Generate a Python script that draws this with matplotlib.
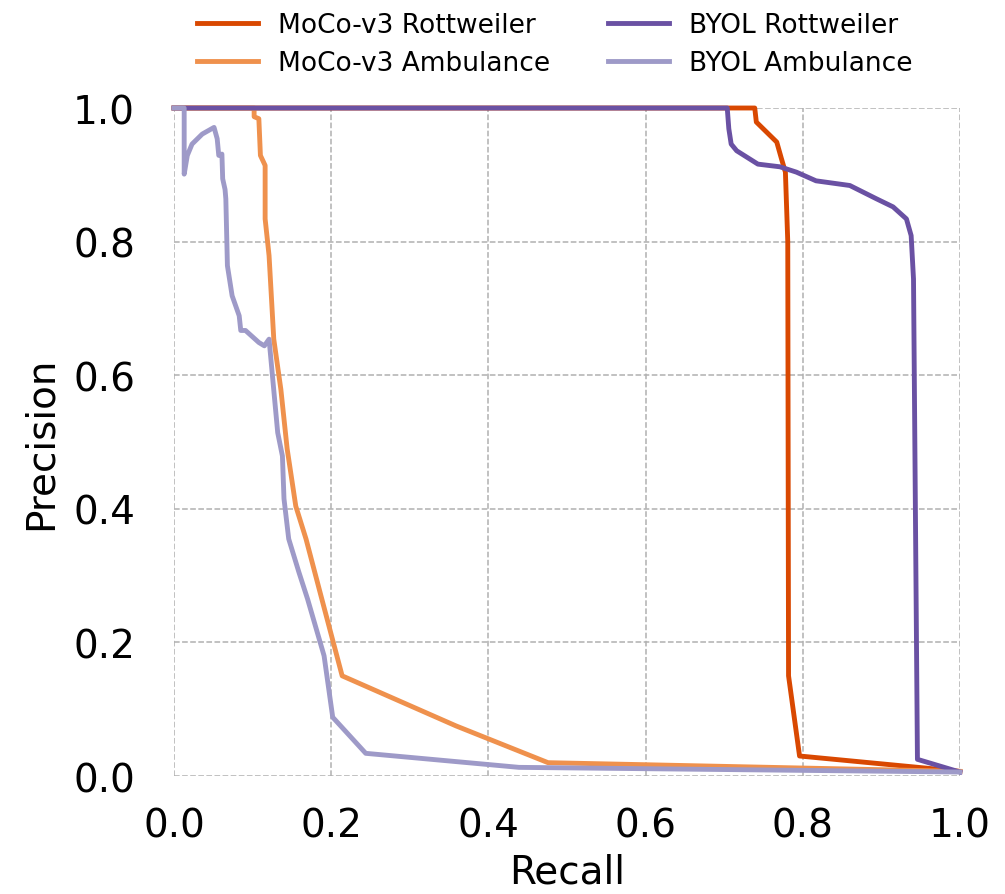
import matplotlib
matplotlib.use("Agg")
import matplotlib.pyplot as plt

# recall / precision points
moco_rott_r = [0.0, 0.739, 0.741, 0.754, 0.767, 0.773, 0.778, 0.781, 0.782, 0.796, 1.0]
moco_rott_p = [1.0, 1.0, 0.979, 0.964, 0.949, 0.924, 0.904, 0.80, 0.150, 0.030, 0.007]

moco_amb_r = [0.0, 0.102, 0.102, 0.108, 0.110, 0.116, 0.116, 0.121, 0.127, 0.136, 0.144,
              0.155, 0.168, 0.187, 0.214, 0.359, 0.476, 1.0]
moco_amb_p = [1.0, 1.0, 0.987, 0.984, 0.929, 0.914, 0.834, 0.779, 0.654, 0.579, 0.49,
              0.404, 0.355, 0.27, 0.150, 0.075, 0.020, 0.007]

byol_rott_r = [0.0, 0.704, 0.706, 0.709, 0.716, 0.743, 0.771, 0.792, 0.817, 0.860, 0.894,
               0.915, 0.932, 0.938, 0.941, 0.946, 1.0]
byol_rott_p = [1.0, 1.0, 0.969, 0.946, 0.936, 0.916, 0.912, 0.904, 0.891, 0.884, 0.864,
               0.852, 0.834, 0.809, 0.744, 0.025, 0.006]

byol_amb_r = [0.0, 0.013, 0.013, 0.017, 0.023, 0.036, 0.051, 0.055, 0.057, 0.061, 0.062,
              0.065, 0.066, 0.068, 0.074, 0.083, 0.085, 0.091, 0.108, 0.115, 0.121, 0.132,
              0.138, 0.140, 0.146, 0.159, 0.170, 0.191, 0.202, 0.244, 0.439, 1.0]
byol_amb_p = [1.0, 1.0, 0.901, 0.929, 0.946, 0.961, 0.971, 0.954, 0.929, 0.931, 0.894,
              0.878, 0.864, 0.764, 0.719, 0.689, 0.667, 0.667, 0.649, 0.644, 0.654, 0.514,
              0.479, 0.415, 0.355, 0.305, 0.265, 0.18, 0.088, 0.034, 0.013, 0.006]

ticks = [0.0, 0.2, 0.4, 0.6, 0.8, 1.0]

fig = plt.figure(figsize=(10.05, 8.95), dpi=100)
ax = fig.add_axes([0.1731, 0.1318, 0.782, 0.7464])

lw = 3.5
ax.plot(moco_rott_r, moco_rott_p, color='#d94801', lw=lw, label='MoCo-v3 Rottweiler', clip_on=False)
ax.plot(moco_amb_r, moco_amb_p, color='#ef914d', lw=lw, label='MoCo-v3 Ambulance', clip_on=False)
ax.plot(byol_rott_r, byol_rott_p, color='#6a51a3', lw=lw, label='BYOL Rottweiler', clip_on=False)
ax.plot(byol_amb_r, byol_amb_p, color='#9e9ac8', lw=lw, label='BYOL Ambulance', clip_on=False)

ax.set_xlim(0, 1)
ax.set_ylim(0, 1)
ax.set_xticks(ticks)
ax.set_yticks(ticks)
ax.set_xticklabels([f'{t:.1f}' for t in ticks])
ax.set_yticklabels([f'{t:.1f}' for t in ticks])
ax.tick_params(length=0, labelsize=28)
ax.tick_params(axis='x', pad=22)
ax.tick_params(axis='y', pad=28)
for s in ax.spines.values():
    s.set_visible(False)
ax.grid(True, linestyle='--', color='#b0b0b0', lw=1.1)
ax.set_axisbelow(True)
ax.set_xlabel('Recall', fontsize=28, labelpad=6)
ax.set_ylabel('Precision', fontsize=28, labelpad=10)

# legend: columns MoCo | BYOL
h, l = ax.get_legend_handles_labels()
fig.legend(h, l, loc='upper center', bbox_to_anchor=(0.552, 1.012), ncol=2, frameon=False,
           fontsize=19, handlelength=2.3, handletextpad=0.75, columnspacing=2.2,
           labelspacing=0.45)

fig.savefig('out.png', dpi=100)
